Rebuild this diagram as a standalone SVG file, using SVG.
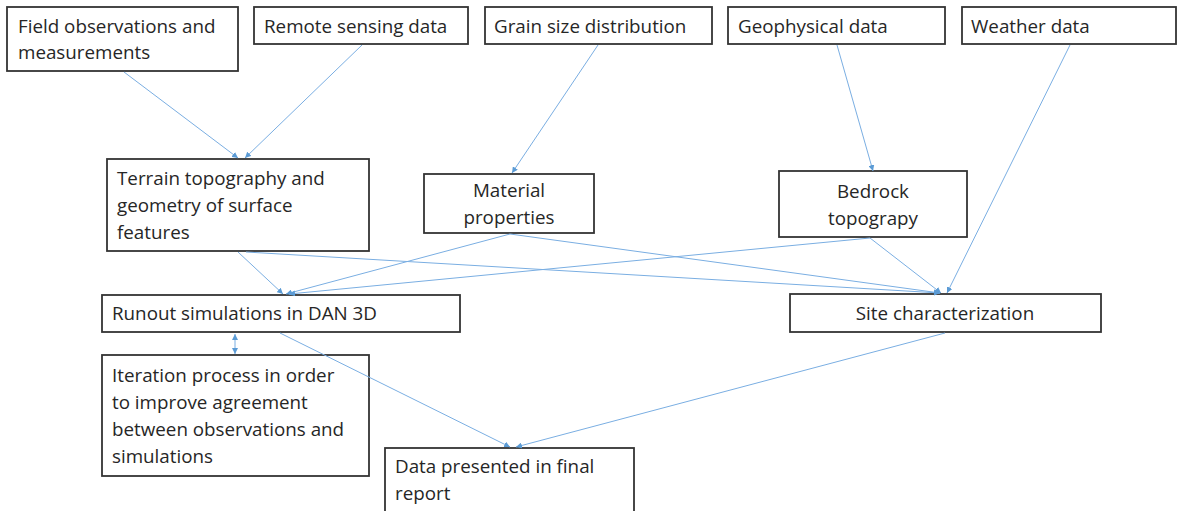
<svg xmlns="http://www.w3.org/2000/svg" width="1178" height="511" viewBox="0 0 1178 511">
<defs>
<marker id="ah" viewBox="0 0 10 10" refX="10" refY="5" markerWidth="6" markerHeight="6" markerUnits="userSpaceOnUse" orient="auto-start-reverse">
<path d="M0,0 L10,5 L0,10 z" fill="#5B9BD5"/>
</marker>
<style>
.box{fill:#fff;stroke:#333;stroke-width:1.8}
.t{font-family:"Open Sans","Liberation Sans",Arial,sans-serif;font-size:18.8px;fill:#262626}
.c{text-anchor:middle}
.ln{stroke:#7AAEE2;stroke-width:1;fill:none;marker-end:url(#ah)}
</style>
</defs>
<rect width="1178" height="511" fill="#fff"/>
<g id="n-field"><rect class="box" x="7" y="7" width="231" height="64"/><text class="t" x="18" y="33">Field observations and</text><text class="t" x="18" y="59">measurements</text></g>
<g id="n-remote"><rect class="box" x="254" y="7" width="214" height="37"/><text class="t" x="264" y="33">Remote sensing data</text></g>
<g id="n-grain"><rect class="box" x="485" y="7" width="227" height="37"/><text class="t" x="494" y="33">Grain size distribution</text></g>
<g id="n-geo"><rect class="box" x="728" y="7" width="217" height="37"/><text class="t" x="738" y="33">Geophysical data</text></g>
<g id="n-weather"><rect class="box" x="962" y="7" width="214" height="37"/><text class="t" x="971" y="33">Weather data</text></g>
<g id="n-terrain"><rect class="box" x="107" y="159" width="262" height="92"/><text class="t" x="117" y="185">Terrain topography and</text><text class="t" x="117" y="212">geometry of surface</text><text class="t" x="117" y="239">features</text></g>
<g id="n-material"><rect class="box" x="424" y="174" width="170" height="59"/><text class="t c" x="509" y="197">Material</text><text class="t c" x="509" y="224">properties</text></g>
<g id="n-bedrock"><rect class="box" x="779" y="171" width="188" height="66"/><text class="t c" x="873" y="198">Bedrock</text><text class="t c" x="873" y="225">topograpy</text></g>
<g id="n-runout"><rect class="box" x="102" y="295" width="358" height="37"/><text class="t" x="112" y="320">Runout simulations in DAN 3D</text></g>
<g id="n-site"><rect class="box" x="790" y="294" width="311" height="38"/><text class="t c" x="945" y="320">Site characterization</text></g>
<g id="n-iter"><rect class="box" x="102" y="355" width="267" height="121"/><text class="t" x="112" y="382">Iteration process in order</text><text class="t" x="112" y="409">to improve agreement</text><text class="t" x="112" y="436">between observations and</text><text class="t" x="112" y="463">simulations</text></g>
<g id="n-data"><rect class="box" x="385" y="448" width="249" height="66"/><text class="t" x="395" y="473">Data presented in final</text><text class="t" x="395" y="500">report</text></g>
<g id="connectors">
<line class="ln" x1="124" y1="72" x2="238" y2="158"/>
<line class="ln" x1="362" y1="45" x2="245" y2="158"/>
<line class="ln" x1="598" y1="45" x2="512" y2="173"/>
<line class="ln" x1="837" y1="45" x2="873" y2="171"/>
<line class="ln" x1="1070" y1="45" x2="947" y2="293"/>
<line class="ln" x1="238" y1="252" x2="283" y2="294"/>
<line class="ln" x1="246" y1="252" x2="940" y2="293"/>
<line class="ln" x1="510" y1="234" x2="286" y2="294"/>
<line class="ln" x1="510" y1="234" x2="940" y2="293"/>
<line class="ln" x1="870" y1="238" x2="289" y2="294"/>
<line class="ln" x1="870" y1="238" x2="941" y2="293"/>
<line class="ln" x1="235" y1="334" x2="235" y2="354" style="marker-start:url(#ah)"/>
<line class="ln" x1="280" y1="333" x2="510" y2="447"/>
<line class="ln" x1="945" y1="333" x2="516" y2="447"/>
</g>
</svg>
